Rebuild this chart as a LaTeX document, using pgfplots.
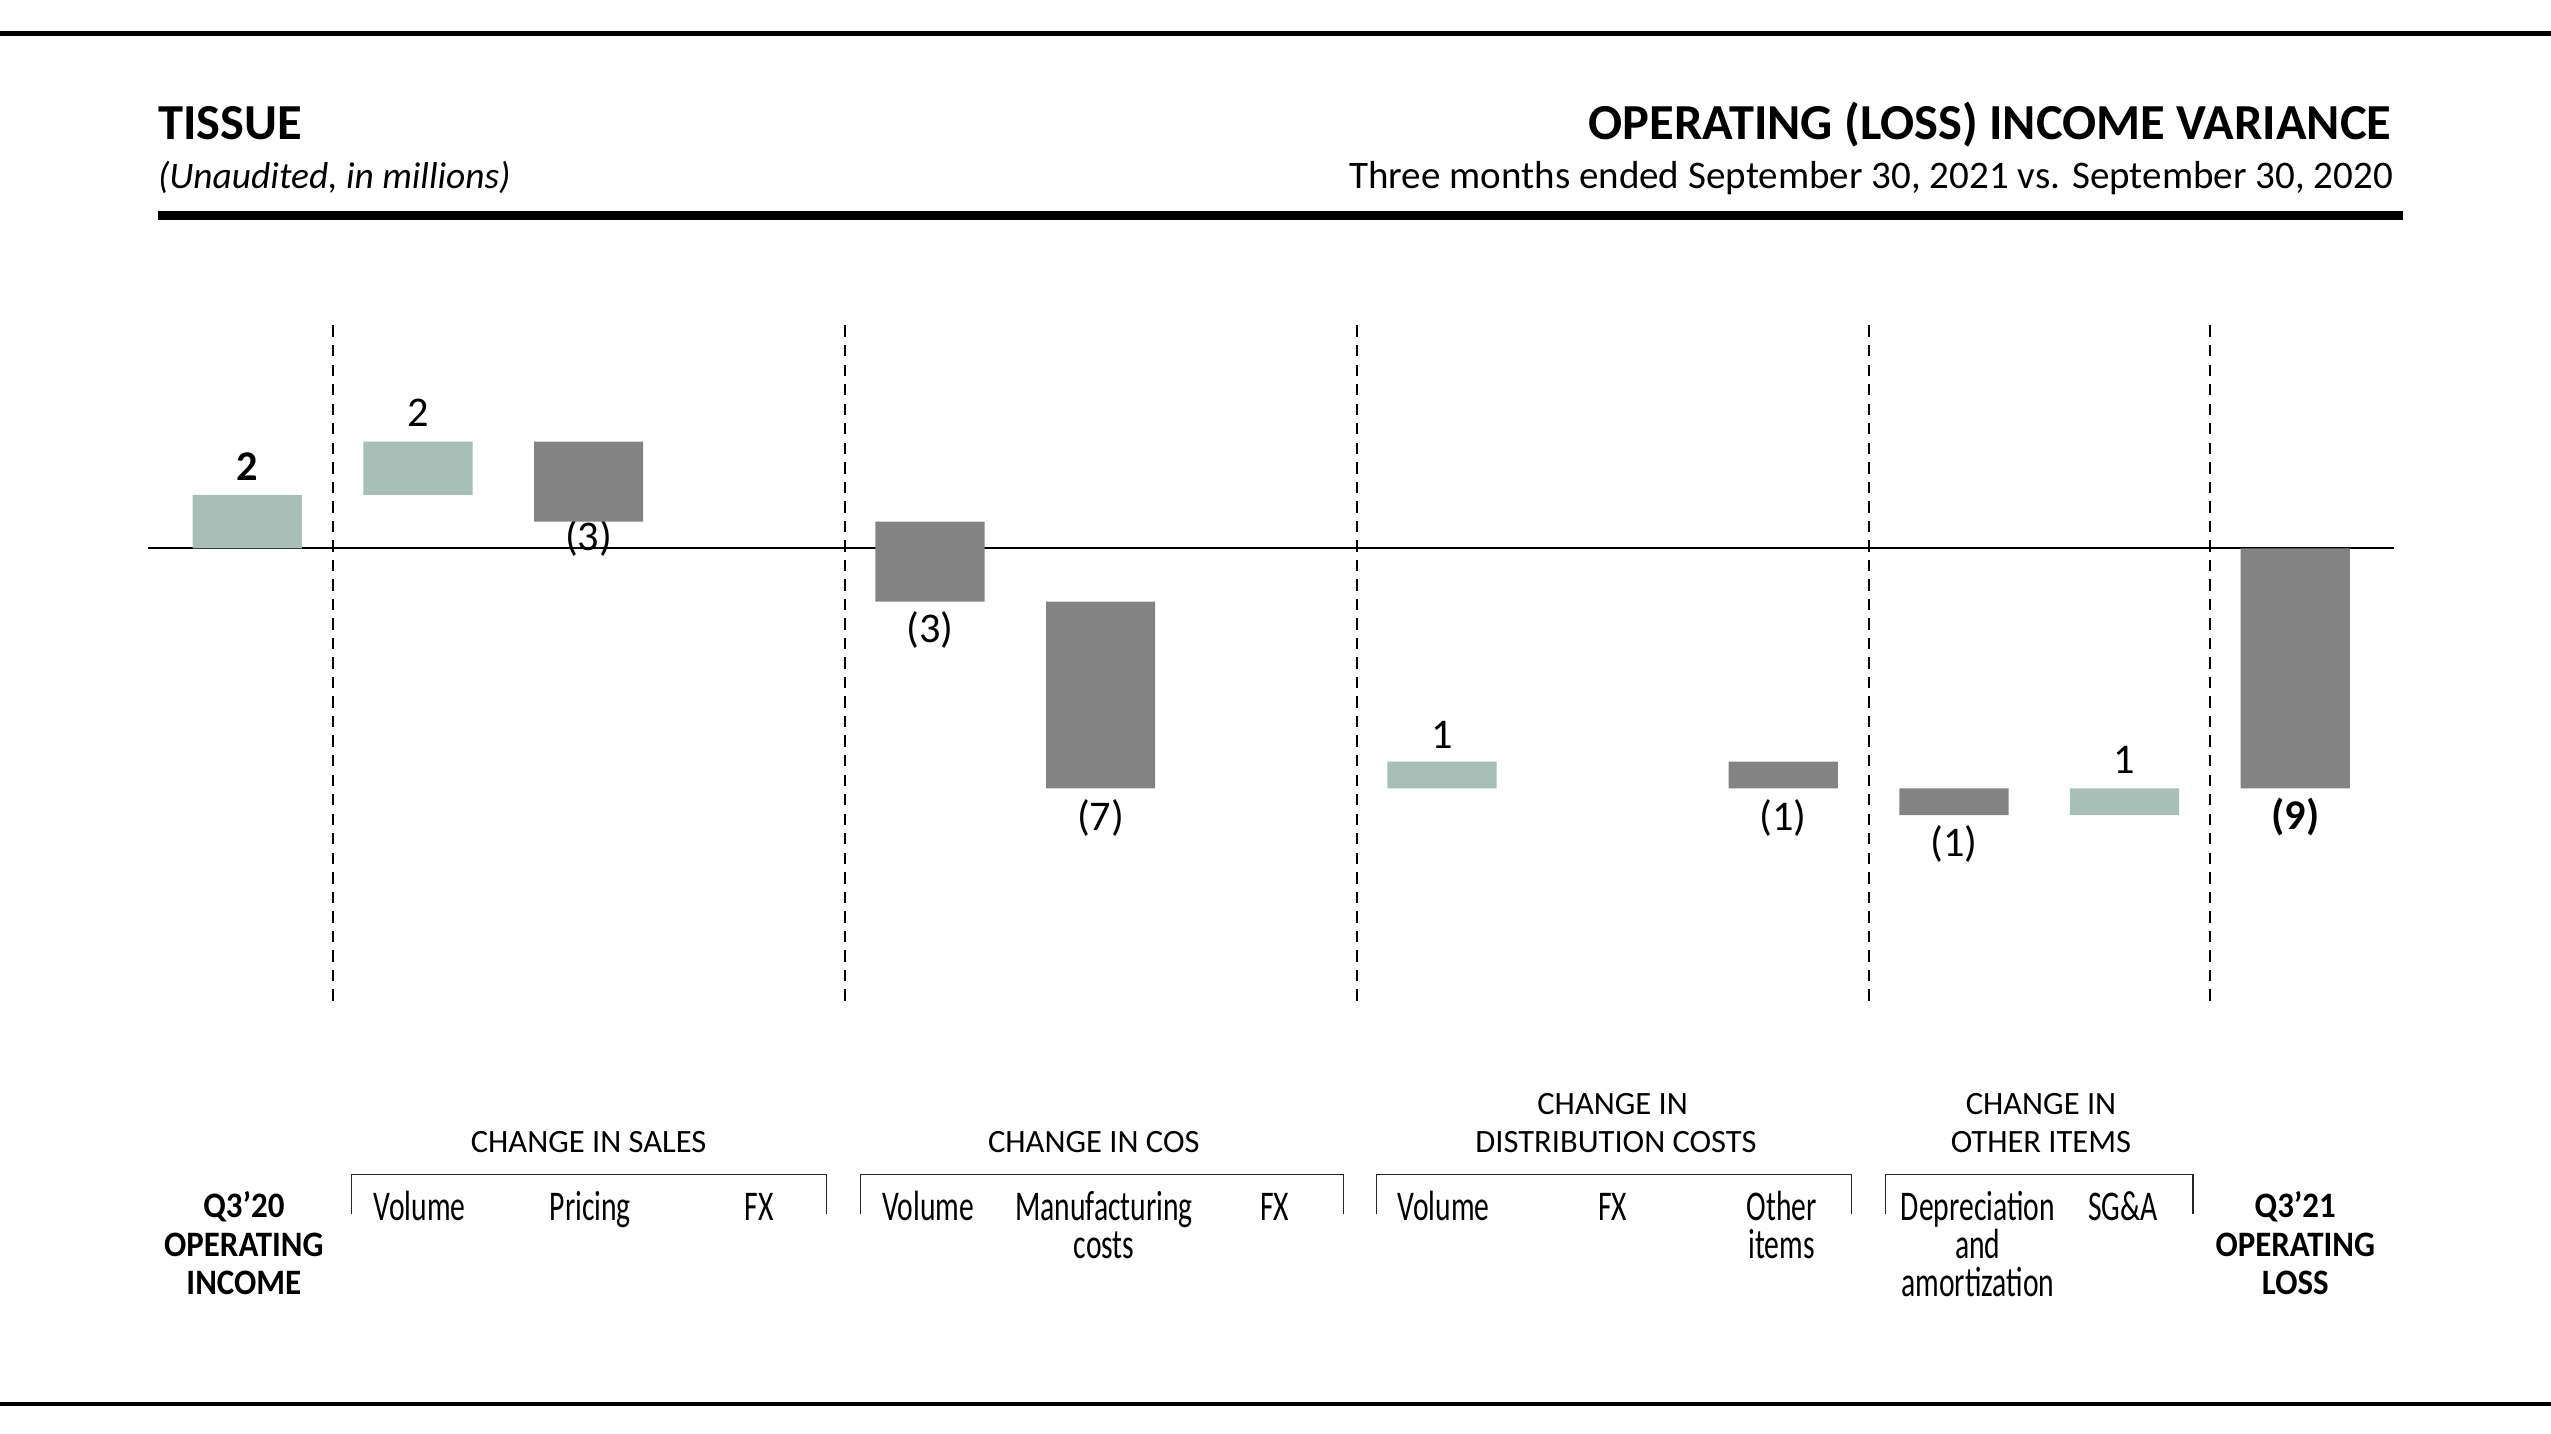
\documentclass[border=0pt]{standalone}
\usepackage{fontspec}
\setmainfont{Carlito}
\newfontfamily\condfont[FakeStretch=0.70]{Carlito}
\newfontfamily\totfont[FakeStretch=0.92]{Carlito}
\usepackage{pgfplots}
\pgfplotsset{compat=1.18}
\usepackage{pgfplotstable}
\definecolor{bargreen}{RGB}{166,191,183}
\definecolor{bargray}{RGB}{131,131,131}

% waterfall: start value, positive step (green), negative step (gray)
\pgfplotstableread{
x start up down
0 0 2 0
1 2 2 0
2 4 0 -3
4 1 0 -3
5 -2 0 -7
7 -9 1 0
9 -8 0 -1
10 -9 0 -1
11 -10 1 0
12 0 0 -9
}\wf

\newcommand{\catfont}{\condfont\fontsize{26}{23}\selectfont}
\newcommand{\hdrfont}{\fontsize{20}{23}\selectfont}
\newcommand{\valfont}{\fontsize{26}{28}\selectfont}
\newcommand{\totalfont}{\totfont\bfseries\fontsize{22}{23}\selectfont}

\begin{document}
\begin{tikzpicture}
\path[use as bounding box] (0pt,0pt) rectangle (1568pt,881pt);
\begin{axis}[at={(0pt,0pt)}, anchor=south west, scale only axis,
  width=1568pt, height=881pt,
  xmin=-1.4490, xmax=13.4986, ymin=-33.171, ymax=20.549,
  hide axis, clip=false, ybar stacked, stack negative=on previous, bar width=0.64]
\addplot[draw=none, fill=none] table[x=x,y=start]{\wf};
\addplot[draw=none, fill=bargreen] table[x=x,y=up]{\wf};
\addplot[draw=none, fill=bargray] table[x=x,y=down]{\wf};

% zero line
\draw[line width=1pt] (axis cs:-0.58,0) -- (axis cs:12.58,0);
% separators
\pgfplotsinvokeforeach{0.5,3.5,6.5,9.5,11.5}{
  \draw[line width=1.1pt, dash pattern=on 7pt off 5pt] (axis cs:#1,8.35) -- (axis cs:#1,-16.95);
}

% value labels
\node[font=\valfont\bfseries, inner sep=0] at (axis cs:0,3.05) {2};
\node[font=\valfont, inner sep=0] at (axis cs:1,5.06) {2};
\node[font=\valfont, inner sep=0] at (axis cs:2,0.37) {(3)};
\node[font=\valfont, inner sep=0] at (axis cs:4,-3.05) {(3)};
\node[font=\valfont, inner sep=0] at (axis cs:5,-10.12) {(7)};
\node[font=\valfont, inner sep=0] at (axis cs:7,-7.0) {1};
\node[font=\valfont, inner sep=0] at (axis cs:9,-10.12) {(1)};
\node[font=\valfont, inner sep=0] at (axis cs:10,-11.1) {(1)};
\node[font=\valfont, inner sep=0] at (axis cs:11,-7.93) {1};
\node[font=\valfont\bfseries, inner sep=0] at (axis cs:12,-10.06) {(9)};

% brackets
\draw[line width=0.8pt, black!85] (axis cs:0.610,-24.94) |- (axis cs:3.394,-23.48) -- (axis cs:3.394,-24.94);
\draw[line width=0.8pt, black!85] (axis cs:3.594,-24.94) |- (axis cs:6.425,-23.48) -- (axis cs:6.425,-24.94);
\draw[line width=0.8pt, black!85] (axis cs:6.616,-24.94) |- (axis cs:9.400,-23.48) -- (axis cs:9.400,-24.94);
\draw[line width=0.8pt, black!85] (axis cs:9.600,-24.94) |- (axis cs:11.401,-23.48) -- (axis cs:11.401,-24.94);

% group headers
\node[font=\hdrfont, anchor=base, inner sep=0] at (axis cs:2.0,-22.65) {CHANGE IN SALES};
\node[font=\hdrfont, anchor=base, inner sep=0] at (axis cs:4.96,-22.65) {CHANGE IN COS};
\node[font=\hdrfont, anchor=base, inner sep=0] at (axis cs:8.0,-21.24) {CHANGE IN};
\node[font=\hdrfont, anchor=base, inner sep=0] at (axis cs:8.02,-22.65) {DISTRIBUTION COSTS};
\node[font=\hdrfont, anchor=base, inner sep=0] at (axis cs:10.51,-21.24) {CHANGE IN};
\node[font=\hdrfont, anchor=base, inner sep=0] at (axis cs:10.51,-22.65) {OTHER ITEMS};

% category labels
\node[font=\catfont, anchor=base, inner sep=0] at (axis cs:1.01,-25.18) {Volume};
\node[font=\catfont, anchor=base, inner sep=0] at (axis cs:2.01,-25.18) {Pricing};
\node[font=\catfont, anchor=base, inner sep=0] at (axis cs:3.0,-25.18) {FX};
\node[font=\catfont, anchor=base, inner sep=0] at (axis cs:3.99,-25.18) {Volume};
\node[font=\catfont, anchor=base, inner sep=0] at (axis cs:5.02,-25.18) {Manufacturing};
\node[font=\catfont, anchor=base, inner sep=0] at (axis cs:5.02,-26.61) {costs};
\node[font=\catfont, anchor=base, inner sep=0] at (axis cs:6.02,-25.18) {FX};
\node[font=\catfont, anchor=base, inner sep=0] at (axis cs:7.01,-25.18) {Volume};
\node[font=\catfont, anchor=base, inner sep=0] at (axis cs:8.0,-25.18) {FX};
\node[font=\catfont, anchor=base, inner sep=0] at (axis cs:8.99,-25.18) {Other};
\node[font=\catfont, anchor=base, inner sep=0] at (axis cs:8.99,-26.61) {items};
\node[font=\catfont, anchor=base, inner sep=0] at (axis cs:10.14,-25.18) {Depreciation};
\node[font=\catfont, anchor=base, inner sep=0] at (axis cs:10.14,-26.61) {and};
\node[font=\catfont, anchor=base, inner sep=0] at (axis cs:10.14,-28.04) {amortization};
\node[font=\catfont, anchor=base, inner sep=0] at (axis cs:10.99,-25.18) {SG\&A};

% totals
\node[font=\totalfont, anchor=base, inner sep=0] at (axis cs:-0.02,-25.1) {Q3’20};
\node[font=\totalfont, anchor=base, inner sep=0] at (axis cs:-0.02,-26.53) {OPERATING};
\node[font=\totalfont, anchor=base, inner sep=0] at (axis cs:-0.02,-27.96) {INCOME};
\node[font=\totalfont, anchor=base, inner sep=0] at (axis cs:12.0,-25.1) {Q3’21};
\node[font=\totalfont, anchor=base, inner sep=0] at (axis cs:12.0,-26.53) {OPERATING};
\node[font=\totalfont, anchor=base, inner sep=0] at (axis cs:12.0,-27.96) {LOSS};
\end{axis}

% page rules and titles
\draw[line width=2.9pt] (0pt,860.5pt) -- (1568pt,860.5pt);
\draw[line width=2.9pt] (0pt,18pt) -- (1568pt,18pt);
\draw[line width=5.5pt] (97pt,748.5pt) -- (1477pt,748.5pt);
\node[anchor=base west, inner sep=0, font=\bfseries\fontsize{31}{33}\selectfont] at (97pt,795pt) {TISSUE};
\node[anchor=base west, inner sep=0, font=\itshape\fontsize{23}{25}\selectfont] at (97pt,765.2pt) {(Unaudited, in millions)};
\node[anchor=base east, inner sep=0, font=\bfseries\fontsize{31}{33}\selectfont] at (1470pt,795pt) {OPERATING (LOSS) INCOME VARIANCE};
\node[anchor=base east, inner sep=0, font=\fontsize{24}{26}\selectfont] at (1471pt,765.2pt) {Three months ended September 30, 2021 vs. September 30, 2020};
\end{tikzpicture}
\end{document}
